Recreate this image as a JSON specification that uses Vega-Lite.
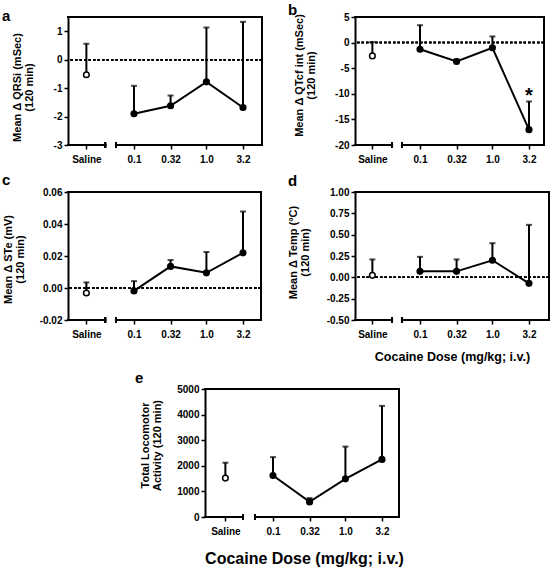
{
  "padding": {"left": 2, "top": 3, "right": 0, "bottom": 0},
  "background": "white",
  "spacing": 8,
  "center": false,
  "datasets": {
    "qrs": [
      {"group": "Saline", "mean": -0.53, "upper": 0.56},
      {"group": "Cocaine", "dose": 0.1, "mean": -1.9, "upper": -0.92},
      {"group": "Cocaine", "dose": 0.32, "mean": -1.62, "upper": -1.26},
      {"group": "Cocaine", "dose": 1.0, "mean": -0.78, "upper": 1.13},
      {"group": "Cocaine", "dose": 3.2, "mean": -1.68, "upper": 1.33}
    ],
    "qtc": [
      {"group": "Saline", "mean": -2.6, "upper": 0.1},
      {"group": "Cocaine", "dose": 0.1, "mean": -1.3, "upper": 3.4},
      {"group": "Cocaine", "dose": 0.32, "mean": -3.7, "upper": -3.3},
      {"group": "Cocaine", "dose": 1.0, "mean": -1.0, "upper": 1.2},
      {"group": "Cocaine", "dose": 3.2, "mean": -17.0, "upper": -11.5, "sig": "*"}
    ],
    "ste": [
      {"group": "Saline", "mean": -0.0031, "upper": 0.0035},
      {"group": "Cocaine", "dose": 0.1, "mean": -0.0018, "upper": 0.0043},
      {"group": "Cocaine", "dose": 0.32, "mean": 0.0135, "upper": 0.0175},
      {"group": "Cocaine", "dose": 1.0, "mean": 0.0095, "upper": 0.0225},
      {"group": "Cocaine", "dose": 3.2, "mean": 0.022, "upper": 0.0478}
    ],
    "temp": [
      {"group": "Saline", "mean": 0.023, "upper": 0.21},
      {"group": "Cocaine", "dose": 0.1, "mean": 0.07, "upper": 0.24},
      {"group": "Cocaine", "dose": 0.32, "mean": 0.07, "upper": 0.21},
      {"group": "Cocaine", "dose": 1.0, "mean": 0.2, "upper": 0.4},
      {"group": "Cocaine", "dose": 3.2, "mean": -0.07, "upper": 0.615}
    ],
    "loco": [
      {"group": "Saline", "mean": 1520, "upper": 2120},
      {"group": "Cocaine", "dose": 0.1, "mean": 1620, "upper": 2340},
      {"group": "Cocaine", "dose": 0.32, "mean": 590, "upper": 740},
      {"group": "Cocaine", "dose": 1.0, "mean": 1490, "upper": 2750},
      {"group": "Cocaine", "dose": 3.2, "mean": 2250, "upper": 4340}
    ]
  },
  "vconcat": [
    {
      "bounds": "flush",
      "spacing": 93,
      "hconcat": [
        {
          "width": 194, "height": 128,
          "data": {"name": "qrs"},
          "title": {"text": "a", "anchor": "start", "frame": "group", "offset": 0, "dx": -66, "dy": 20, "baseline": "alphabetic", "fontSize": 15, "fontWeight": "bold", "color": "black"},
          "layer": [
            {"mark": {"type": "rule", "strokeDash": [2.5, 2], "strokeWidth": 1.5}, "encoding": {"y": {"datum": 0}}},
            {
              "transform": [{"filter": "datum.group == 'Cocaine'"}],
              "encoding": {"x": {"field": "dose", "type": "quantitative", "scale": {"type": "log", "domain": [0.012265, 5.855], "nice": false}, "axis": {"values": [0.022, 0.1, 0.32, 1, 3.2], "labelExpr": "datum.value < 0.05 ? 'Saline' : datum.value == 1 ? '1.0' : datum.value == 0.1 ? '0.1' : datum.value == 0.32 ? '0.32' : '3.2'", "title": null}}},
              "layer": [
                {"mark": "rule", "encoding": {"y": {"field": "mean", "type": "quantitative", "scale": {"domain": [-3, 1.5], "nice": false, "zero": false}, "axis": {"values": [-3, -2, -1, 0, 1], "tickCount": 20, "labelExpr": "replace(format(datum.value, 'd'), '\u2212', '-')", "title": ["Mean Δ QRSi (mSec)", "(120 min)"], "titleX": -45.3, "titleY": 70}}, "y2": {"field": "upper"}}},
                {"mark": {"type": "tick", "orient": "horizontal", "size": 6}, "encoding": {"y": {"field": "upper", "type": "quantitative"}}},
                {"mark": "line", "encoding": {"y": {"field": "mean", "type": "quantitative"}}},
                {"mark": {"type": "circle", "fill": "black"}, "encoding": {"y": {"field": "mean", "type": "quantitative"}}}
              ]
            },
            {
              "transform": [{"filter": "datum.group == 'Saline'"}],
              "encoding": {"x": {"datum": 0.022}},
              "layer": [
                {"mark": "rule", "encoding": {"y": {"field": "mean", "type": "quantitative"}, "y2": {"field": "upper"}}},
                {"mark": {"type": "tick", "orient": "horizontal", "size": 6}, "encoding": {"y": {"field": "upper", "type": "quantitative"}}},
                {"mark": {"type": "circle", "fill": "white"}, "encoding": {"y": {"field": "mean", "type": "quantitative"}}}
              ]
            },
            {"mark": {"type": "rule", "strokeCap": "square"}, "encoding": {"y": {"datum": 1.5}}},
            {"mark": {"type": "rule", "strokeCap": "square"}, "encoding": {"x": {"datum": 5.855}}},
            {"mark": {"type": "rule", "strokeCap": "square"}, "encoding": {"x": {"datum": 0.012265}, "x2": {"datum": 0.040}, "y": {"datum": -3}}},
            {"mark": {"type": "rule", "strokeCap": "square"}, "encoding": {"x": {"datum": 0.0564}, "x2": {"datum": 5.855}, "y": {"datum": -3}}},
            {"mark": {"type": "tick", "orient": "vertical", "size": 6}, "encoding": {"x": {"datum": 0.040}, "y": {"datum": -3}}},
            {"mark": {"type": "tick", "orient": "vertical", "size": 6}, "encoding": {"x": {"datum": 0.0564}, "y": {"datum": -3}}}
          ]
        },
        {
          "width": 189, "height": 128,
          "data": {"name": "qtc"},
          "title": {"text": "b", "anchor": "start", "frame": "group", "offset": 0, "dx": -67, "dy": 18, "baseline": "alphabetic", "fontSize": 15, "fontWeight": "bold", "color": "black"},
          "layer": [
            {"mark": {"type": "rule", "strokeDash": [2.5, 2], "strokeWidth": 1.5}, "encoding": {"y": {"datum": 0}}},
            {
              "transform": [{"filter": "datum.group == 'Cocaine'"}],
              "encoding": {"x": {"field": "dose", "type": "quantitative", "scale": {"type": "log", "domain": [0.012663, 5.156], "nice": false}, "axis": {"values": [0.022, 0.1, 0.32, 1, 3.2], "labelExpr": "datum.value < 0.05 ? 'Saline' : datum.value == 1 ? '1.0' : datum.value == 0.1 ? '0.1' : datum.value == 0.32 ? '0.32' : '3.2'", "title": null}}},
              "layer": [
                {"mark": "rule", "encoding": {"y": {"field": "mean", "type": "quantitative", "scale": {"domain": [-20, 5], "nice": false, "zero": false}, "axis": {"values": [-20, -15, -10, -5, 0, 5], "tickCount": 20, "labelExpr": "replace(format(datum.value, 'd'), '\u2212', '-')", "title": ["Mean Δ QTcf int (mSec)", "(120 min)"], "titleX": -51, "titleY": 58}}, "y2": {"field": "upper"}}},
                {"mark": {"type": "tick", "orient": "horizontal", "size": 6}, "encoding": {"y": {"field": "upper", "type": "quantitative"}}},
                {"mark": "line", "encoding": {"y": {"field": "mean", "type": "quantitative"}}},
                {"mark": {"type": "circle", "fill": "black"}, "encoding": {"y": {"field": "mean", "type": "quantitative"}}},
                {"transform": [{"filter": "datum.sig"}], "mark": {"type": "text", "fontSize": 20, "fontWeight": "bold", "baseline": "alphabetic", "dy": 1}, "encoding": {"y": {"field": "upper", "type": "quantitative"}, "text": {"field": "sig"}}}
              ]
            },
            {
              "transform": [{"filter": "datum.group == 'Saline'"}],
              "encoding": {"x": {"datum": 0.022}},
              "layer": [
                {"mark": "rule", "encoding": {"y": {"field": "mean", "type": "quantitative"}, "y2": {"field": "upper"}}},
                {"mark": {"type": "tick", "orient": "horizontal", "size": 6}, "encoding": {"y": {"field": "upper", "type": "quantitative"}}},
                {"mark": {"type": "circle", "fill": "white"}, "encoding": {"y": {"field": "mean", "type": "quantitative"}}}
              ]
            },
            {"mark": {"type": "rule", "strokeCap": "square"}, "encoding": {"y": {"datum": 5}}},
            {"mark": {"type": "rule", "strokeCap": "square"}, "encoding": {"x": {"datum": 5.156}}},
            {"mark": {"type": "rule", "strokeCap": "square"}, "encoding": {"x": {"datum": 0.012663}, "x2": {"datum": 0.0411}, "y": {"datum": -20}}},
            {"mark": {"type": "rule", "strokeCap": "square"}, "encoding": {"x": {"datum": 0.0564}, "x2": {"datum": 5.156}, "y": {"datum": -20}}},
            {"mark": {"type": "tick", "orient": "vertical", "size": 6}, "encoding": {"x": {"datum": 0.0411}, "y": {"datum": -20}}},
            {"mark": {"type": "tick", "orient": "vertical", "size": 6}, "encoding": {"x": {"datum": 0.0564}, "y": {"datum": -20}}}
          ]
        }
      ]
    },
    {
      "bounds": "flush",
      "spacing": 94,
      "hconcat": [
        {
          "width": 193, "height": 128,
          "data": {"name": "ste"},
          "title": {"text": "c", "anchor": "start", "frame": "group", "offset": 0, "dx": -66, "dy": 13.2, "baseline": "alphabetic", "fontSize": 15, "fontWeight": "bold", "color": "black"},
          "layer": [
            {"mark": {"type": "rule", "strokeDash": [2.5, 2], "strokeWidth": 1.5}, "encoding": {"y": {"datum": 0}}},
            {
              "transform": [{"filter": "datum.group == 'Cocaine'"}],
              "encoding": {"x": {"field": "dose", "type": "quantitative", "scale": {"type": "log", "domain": [0.012265, 5.672], "nice": false}, "axis": {"values": [0.022, 0.1, 0.32, 1, 3.2], "labelExpr": "datum.value < 0.05 ? 'Saline' : datum.value == 1 ? '1.0' : datum.value == 0.1 ? '0.1' : datum.value == 0.32 ? '0.32' : '3.2'", "title": null}}},
              "layer": [
                {"mark": "rule", "encoding": {"y": {"field": "mean", "type": "quantitative", "scale": {"domain": [-0.02, 0.06], "nice": false, "zero": false}, "axis": {"values": [-0.02, 0, 0.02, 0.04, 0.06], "tickCount": 20, "labelExpr": "replace(format(datum.value, '.2f'), '\u2212', '-')", "title": ["Mean Δ STe (mV)", "(120 min)"], "titleX": -54.5, "titleY": 67}}, "y2": {"field": "upper"}}},
                {"mark": {"type": "tick", "orient": "horizontal", "size": 6}, "encoding": {"y": {"field": "upper", "type": "quantitative"}}},
                {"mark": "line", "encoding": {"y": {"field": "mean", "type": "quantitative"}}},
                {"mark": {"type": "circle", "fill": "black"}, "encoding": {"y": {"field": "mean", "type": "quantitative"}}}
              ]
            },
            {
              "transform": [{"filter": "datum.group == 'Saline'"}],
              "encoding": {"x": {"datum": 0.022}},
              "layer": [
                {"mark": "rule", "encoding": {"y": {"field": "mean", "type": "quantitative"}, "y2": {"field": "upper"}}},
                {"mark": {"type": "tick", "orient": "horizontal", "size": 6}, "encoding": {"y": {"field": "upper", "type": "quantitative"}}},
                {"mark": {"type": "circle", "fill": "white"}, "encoding": {"y": {"field": "mean", "type": "quantitative"}}}
              ]
            },
            {"mark": {"type": "rule", "strokeCap": "square"}, "encoding": {"y": {"datum": 0.06}}},
            {"mark": {"type": "rule", "strokeCap": "square"}, "encoding": {"x": {"datum": 5.672}}},
            {"mark": {"type": "rule", "strokeCap": "square"}, "encoding": {"x": {"datum": 0.012265}, "x2": {"datum": 0.040}, "y": {"datum": -0.02}}},
            {"mark": {"type": "rule", "strokeCap": "square"}, "encoding": {"x": {"datum": 0.0564}, "x2": {"datum": 5.672}, "y": {"datum": -0.02}}},
            {"mark": {"type": "tick", "orient": "vertical", "size": 6}, "encoding": {"x": {"datum": 0.040}, "y": {"datum": -0.02}}},
            {"mark": {"type": "tick", "orient": "vertical", "size": 6}, "encoding": {"x": {"datum": 0.0564}, "y": {"datum": -0.02}}}
          ]
        },
        {
          "width": 194, "height": 128,
          "data": {"name": "temp"},
          "title": {"text": "d", "anchor": "start", "frame": "group", "offset": 0, "dx": -67, "dy": 14, "baseline": "alphabetic", "fontSize": 15, "fontWeight": "bold", "color": "black"},
          "layer": [
            {"mark": {"type": "rule", "strokeDash": [2.5, 2], "strokeWidth": 1.5}, "encoding": {"y": {"datum": 0}}},
            {
              "transform": [{"filter": "datum.group == 'Cocaine'"}],
              "encoding": {"x": {"field": "dose", "type": "quantitative", "scale": {"type": "log", "domain": [0.012663, 6.043], "nice": false}, "axis": {"values": [0.022, 0.1, 0.32, 1, 3.2], "labelExpr": "datum.value < 0.05 ? 'Saline' : datum.value == 1 ? '1.0' : datum.value == 0.1 ? '0.1' : datum.value == 0.32 ? '0.32' : '3.2'", "title": "Cocaine Dose (mg/kg; i.v.)", "titleFontSize": 12.5, "titleX": 97, "titleY": 30.2}}},
              "layer": [
                {"mark": "rule", "encoding": {"y": {"field": "mean", "type": "quantitative", "scale": {"domain": [-0.5, 1], "nice": false, "zero": false}, "axis": {"values": [-0.5, -0.25, 0, 0.25, 0.5, 0.75, 1], "tickCount": 20, "labelExpr": "replace(format(datum.value, '.2f'), '\u2212', '-')", "title": ["Mean Δ Temp (°C)", "(120 min)"], "titleX": -56.3, "titleY": 60}}, "y2": {"field": "upper"}}},
                {"mark": {"type": "tick", "orient": "horizontal", "size": 6}, "encoding": {"y": {"field": "upper", "type": "quantitative"}}},
                {"mark": "line", "encoding": {"y": {"field": "mean", "type": "quantitative"}}},
                {"mark": {"type": "circle", "fill": "black"}, "encoding": {"y": {"field": "mean", "type": "quantitative"}}}
              ]
            },
            {
              "transform": [{"filter": "datum.group == 'Saline'"}],
              "encoding": {"x": {"datum": 0.022}},
              "layer": [
                {"mark": "rule", "encoding": {"y": {"field": "mean", "type": "quantitative"}, "y2": {"field": "upper"}}},
                {"mark": {"type": "tick", "orient": "horizontal", "size": 6}, "encoding": {"y": {"field": "upper", "type": "quantitative"}}},
                {"mark": {"type": "circle", "fill": "white"}, "encoding": {"y": {"field": "mean", "type": "quantitative"}}}
              ]
            },
            {"mark": {"type": "rule", "strokeCap": "square"}, "encoding": {"y": {"datum": 1}}},
            {"mark": {"type": "rule", "strokeCap": "square"}, "encoding": {"x": {"datum": 6.043}}},
            {"mark": {"type": "rule", "strokeCap": "square"}, "encoding": {"x": {"datum": 0.012663}, "x2": {"datum": 0.0411}, "y": {"datum": -0.5}}},
            {"mark": {"type": "rule", "strokeCap": "square"}, "encoding": {"x": {"datum": 0.0564}, "x2": {"datum": 6.043}, "y": {"datum": -0.5}}},
            {"mark": {"type": "tick", "orient": "vertical", "size": 6}, "encoding": {"x": {"datum": 0.0411}, "y": {"datum": -0.5}}},
            {"mark": {"type": "tick", "orient": "vertical", "size": 6}, "encoding": {"x": {"datum": 0.0564}, "y": {"datum": -0.5}}}
          ]
        }
      ]
    },
    {
      "bounds": "flush",
      "spacing": 10,
      "hconcat": [
        {"width": 127, "height": 128, "data": {"values": [{}]}, "mark": {"type": "point", "opacity": 0}, "encoding": {}},
        {
          "width": 194, "height": 128,
          "data": {"name": "loco"},
          "title": {"text": "e", "anchor": "start", "frame": "group", "offset": 0, "dx": -70, "dy": 14.4, "baseline": "alphabetic", "fontSize": 15, "fontWeight": "bold", "color": "black"},
          "layer": [
            {
              "transform": [{"filter": "datum.group == 'Cocaine'"}],
              "encoding": {"x": {"field": "dose", "type": "quantitative", "scale": {"type": "log", "domain": [0.01151, 5.495], "nice": false}, "axis": {"values": [0.022, 0.1, 0.32, 1, 3.2], "labelExpr": "datum.value < 0.05 ? 'Saline' : datum.value == 1 ? '1.0' : datum.value == 0.1 ? '0.1' : datum.value == 0.32 ? '0.32' : '3.2'", "title": "Cocaine Dose (mg/kg; i.v.)", "titleFontSize": 16, "titleX": 99, "titleY": 33.1}}},
              "layer": [
                {"mark": "rule", "encoding": {"y": {"field": "mean", "type": "quantitative", "scale": {"domain": [0, 5000], "nice": false, "zero": false}, "axis": {"values": [0, 1000, 2000, 3000, 4000, 5000], "tickCount": 20, "labelExpr": "replace(format(datum.value, 'd'), '\u2212', '-')", "title": ["Total Locomotor", "Activity (120 min)"], "titleX": -54.3, "titleY": 56}}, "y2": {"field": "upper"}}},
                {"mark": {"type": "tick", "orient": "horizontal", "size": 6}, "encoding": {"y": {"field": "upper", "type": "quantitative"}}},
                {"mark": "line", "encoding": {"y": {"field": "mean", "type": "quantitative"}}},
                {"mark": {"type": "circle", "fill": "black"}, "encoding": {"y": {"field": "mean", "type": "quantitative"}}}
              ]
            },
            {
              "transform": [{"filter": "datum.group == 'Saline'"}],
              "encoding": {"x": {"datum": 0.022}},
              "layer": [
                {"mark": "rule", "encoding": {"y": {"field": "mean", "type": "quantitative"}, "y2": {"field": "upper"}}},
                {"mark": {"type": "tick", "orient": "horizontal", "size": 6}, "encoding": {"y": {"field": "upper", "type": "quantitative"}}},
                {"mark": {"type": "circle", "fill": "white"}, "encoding": {"y": {"field": "mean", "type": "quantitative"}}}
              ]
            },
            {"mark": {"type": "rule", "strokeCap": "square"}, "encoding": {"y": {"datum": 5000}}},
            {"mark": {"type": "rule", "strokeCap": "square"}, "encoding": {"x": {"datum": 5.495}}},
            {"mark": {"type": "rule", "strokeCap": "square"}, "encoding": {"x": {"datum": 0.01151}, "x2": {"datum": 0.0385}, "y": {"datum": 0}}},
            {"mark": {"type": "rule", "strokeCap": "square"}, "encoding": {"x": {"datum": 0.0564}, "x2": {"datum": 5.495}, "y": {"datum": 0}}},
            {"mark": {"type": "tick", "orient": "vertical", "size": 6}, "encoding": {"x": {"datum": 0.0385}, "y": {"datum": 0}}},
            {"mark": {"type": "tick", "orient": "vertical", "size": 6}, "encoding": {"x": {"datum": 0.0564}, "y": {"datum": 0}}}
          ]
        }
      ]
    }
  ],
  "config": {
    "font": "Liberation Sans",
    "view": {"stroke": null},
    "axis": {"grid": false, "labelFont": "Liberation Sans", "labelFontSize": 10, "labelFontWeight": "bold", "labelColor": "black", "labelOverlap": false, "labelFlush": false, "titleFont": "Liberation Sans", "titleFontWeight": "bold", "titleColor": "black", "tickColor": "black", "tickWidth": 1.5, "tickSize": 4, "domainColor": "black", "domainWidth": 2},
    "axisX": {"domain": false, "labelPadding": 5.5, "titleAlign": "center", "titleBaseline": "top", "titleAngle": 0},
    "axisY": {"labelPadding": 2, "titleFontSize": 11, "titleLineHeight": 12, "titleAngle": 270, "titleAlign": "center", "titleBaseline": "bottom"},
    "rule": {"color": "black", "strokeWidth": 2},
    "tick": {"color": "black", "thickness": 2},
    "line": {"color": "black", "strokeWidth": 2},
    "circle": {"size": 32, "stroke": "black", "strokeWidth": 1.5, "opacity": 1},
    "text": {"color": "black"}
  }
}
